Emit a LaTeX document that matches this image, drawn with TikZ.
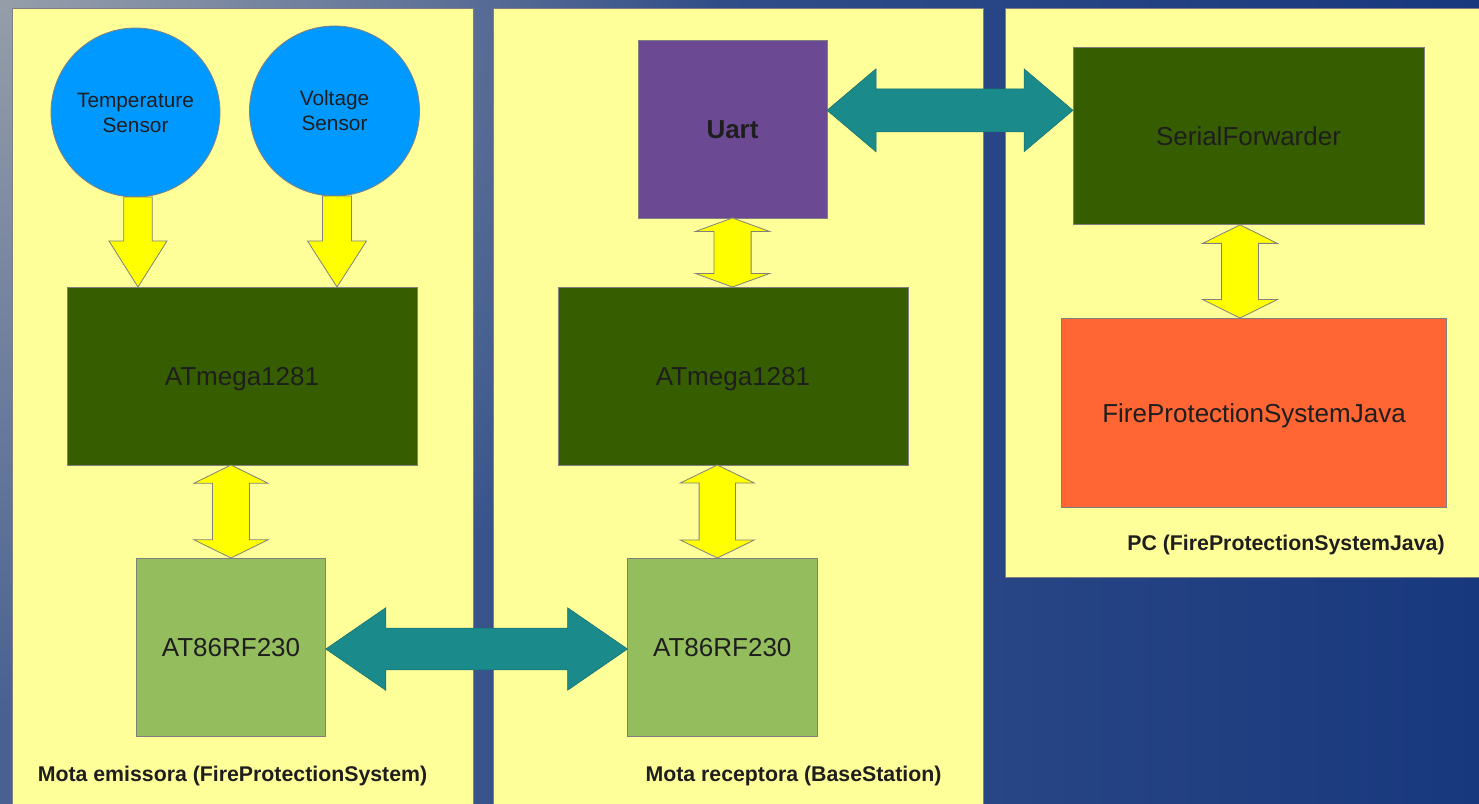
\documentclass[tikz,border=0pt]{standalone}
\usepackage{fontspec}
\setmainfont{Liberation Sans}
\usetikzlibrary{calc,fadings}
\definecolor{bgL}{RGB}{72,97,146}
\definecolor{bgM}{RGB}{62,90,143}
\definecolor{bgR}{RGB}{24,56,126}
\definecolor{bgHi}{RGB}{150,158,170}
\definecolor{panel}{RGB}{255,255,153}
\definecolor{edge}{RGB}{128,128,128}
\definecolor{txt}{RGB}{30,30,30}
\definecolor{sensor}{RGB}{0,153,255}
\definecolor{mcu}{RGB}{54,94,0}
\definecolor{radio}{RGB}{148,189,94}
\definecolor{uartc}{RGB}{108,74,147}
\definecolor{pcapp}{RGB}{255,102,51}
\definecolor{link}{RGB}{26,138,138}
\definecolor{bus}{RGB}{255,255,0}
\tikzfading[name=glow, inner color=transparent!0, outer color=transparent!100]

% vertical single block arrow: style, top point, bottom point, shaft half, head half, head length
\newcommand\VSingle[6]{\draw[#1] let \p1=#2, \p2=#3 in
  (\x1-#4,\y1) -- (\x1+#4,\y1) -- (\x1+#4,\y2+#6) -- (\x1+#5,\y2+#6) -- (\x1,\y2)
  -- (\x1-#5,\y2+#6) -- (\x1-#4,\y2+#6) -- cycle;}
% vertical double block arrow
\newcommand\VDouble[6]{\draw[#1] let \p1=#2, \p2=#3 in
  (\x1,\y1) -- (\x1+#5,\y1-#6) -- (\x1+#4,\y1-#6) -- (\x1+#4,\y2+#6) -- (\x1+#5,\y2+#6)
  -- (\x1,\y2) -- (\x1-#5,\y2+#6) -- (\x1-#4,\y2+#6) -- (\x1-#4,\y1-#6) -- (\x1-#5,\y1-#6) -- cycle;}
% horizontal double block arrow
\newcommand\HDouble[6]{\draw[#1] let \p1=#2, \p2=#3 in
  (\x1,\y1) -- (\x1+#6,\y1+#5) -- (\x1+#6,\y1+#4) -- (\x2-#6,\y1+#4) -- (\x2-#6,\y1+#5)
  -- (\x2,\y1) -- (\x2-#6,\y1-#5) -- (\x2-#6,\y1-#4) -- (\x1+#6,\y1-#4) -- (\x1+#6,\y1-#5) -- cycle;}

\begin{document}
\begin{tikzpicture}[x=1pt,y=-1pt,
  every node/.style={text=txt, inner sep=0pt, outer sep=0pt},
  outline/.style={draw=edge, line width=0.8pt},
  sensornode/.style={outline, circle, fill=sensor, align=center, font=\fontsize{20.8}{25}\selectfont},
  block/.style={outline, rectangle, text depth=0pt, font=\fontsize{26}{31}\selectfont},
  mcunode/.style={block, fill=mcu, minimum width=350pt, minimum height=178pt},
  radionode/.style={block, fill=radio, minimum width=189.5pt, minimum height=178pt},
  panelbox/.style={fill=panel, draw=edge, line width=0.8pt},
  caption/.style={font=\bfseries\fontsize{21.3}{25}\selectfont},
  busarrow/.style={fill=bus, draw=edge, line width=0.8pt, line join=miter},
  linkarrow/.style={fill=link, draw=link!80!black, line width=0.5pt, line join=miter}
]
\useasboundingbox (0,0) rectangle (1479,803);
% background
\shade[left color=bgL, middle color=bgM, right color=bgR] (0,0) rectangle (1479,803);
\fill[bgHi, path fading=glow] (0,0) circle (720);

% panels
\path[panelbox] (12,8) rectangle (473,812);
\path[panelbox] (493,8) rectangle (983,812);
\path[panelbox] (1005,8) rectangle (1490,577);

% nodes
\node[sensornode, minimum size=169pt] (ts) at (135.5,112.5) {Temperature\\Sensor};
\node[sensornode, minimum size=170pt] (vs) at (334.5,111) {Voltage\\Sensor};
\node[mcunode] (atm1) at (242,376) {ATmega1281};
\node[radionode] (rf1) at (231,647) {AT86RF230};

\node[block, fill=uartc, minimum width=189pt, minimum height=177.3pt, font=\bfseries\fontsize{26}{31}\selectfont] (uart) at (732.5,129.3) {Uart};
\node[mcunode] (atm2) at (733,376) {ATmega1281};
\node[radionode] (rf2) at (722.3,647) {AT86RF230};

\node[block, fill=mcu, minimum width=351pt, minimum height=177.7pt] (sf) at (1248.5,136) {SerialForwarder};
\node[block, fill=pcapp, minimum width=384.6pt, minimum height=189.3pt] (fp) at (1254,412.7) {FireProtectionSystemJava};

\node[caption] (lab1) at (232.5,776) {Mota emissora (FireProtectionSystem)};
\node[caption] (lab2) at (793.5,776) {Mota receptora (BaseStation)};
\node[caption] (lab3) at (1286,545) {PC (FireProtectionSystemJava)};

% connectors
\VSingle{busarrow}{($(ts.south)+(2.5,0)$)}{(atm1.north)}{14.3pt}{29pt}{46pt}
\VSingle{busarrow}{($(vs.south)+(2.5,0)$)}{(atm1.north)}{14.5pt}{29.5pt}{46pt}
\VDouble{busarrow}{(atm1.south -| rf1.north)}{($(rf1.north)+(-2,0)$)}{18.5pt}{37pt}{18.2pt}
\VDouble{busarrow}{(uart.south)}{(atm2.north)}{18.6pt}{37pt}{13.5pt}
\VDouble{busarrow}{($(atm2.south -| rf2.north)+(-5,0)$)}{(rf2.north)}{18.2pt}{37pt}{18pt}
\VDouble{busarrow}{($(sf.south)+(-8.5,0)$)}{(fp.north)}{18.5pt}{37.3pt}{18.5pt}
\HDouble{linkarrow}{($(rf1.east)+(0,2)$)}{(rf2.west)}{20.8pt}{41.3pt}{60pt}
\HDouble{linkarrow}{($(uart.east)+(0,-19)$)}{(sf.west)}{21.5pt}{41.5pt}{49pt}
\end{tikzpicture}
\end{document}
